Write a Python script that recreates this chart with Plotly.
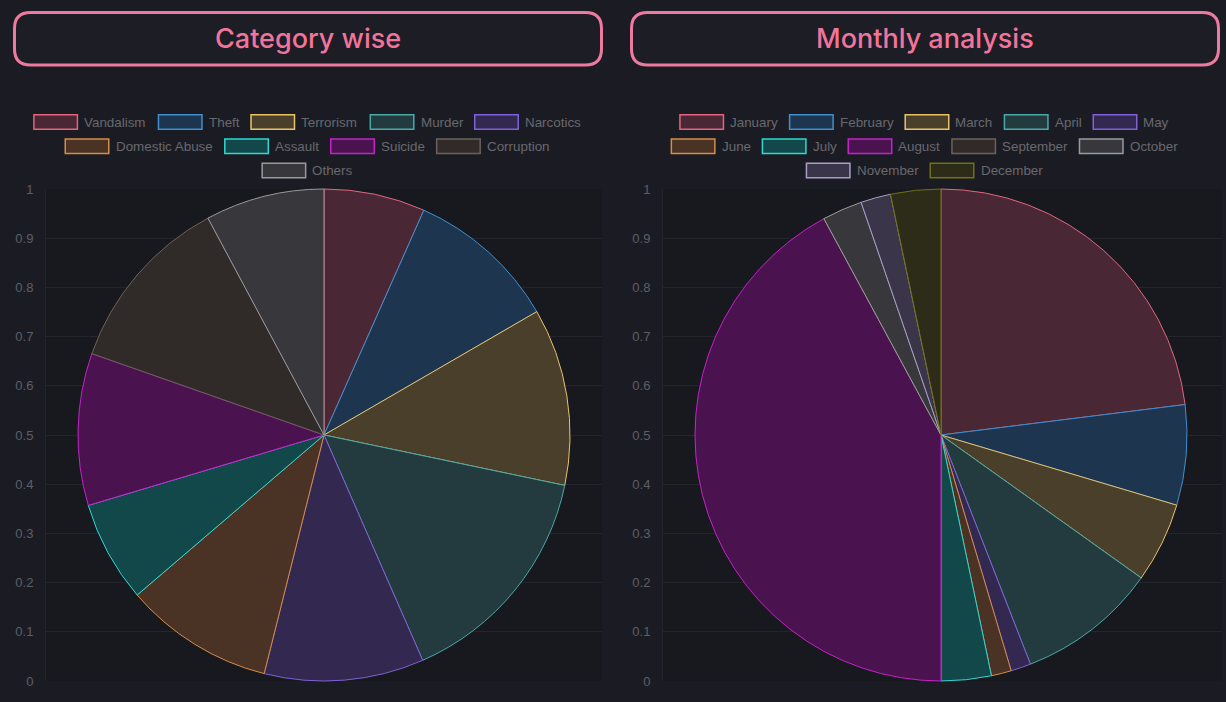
import plotly.graph_objects as go

# ---------------- data ----------------
cat_labels = ["Vandalism", "Theft", "Terrorism", "Murder", "Narcotics",
              "Domestic Abuse", "Assault", "Suicide", "Corruption", "Others"]
cat_values = [4.0, 6.0, 7.0, 9.1, 6.3, 5.9, 4.0, 6.0, 7.1, 4.7]

month_labels = ["January", "February", "March", "April", "May", "June",
                "July", "August", "September", "October", "November", "December"]
month_values = [35, 10, 8, 14, 2, 2, 5, 64, 0, 4, 3, 5]

y_ticks = [0, 0.1, 0.2, 0.3, 0.4, 0.5, 0.6, 0.7, 0.8, 0.9, 1]
y_tick_text = ["0", "0.1", "0.2", "0.3", "0.4", "0.5", "0.6", "0.7", "0.8", "0.9", "1"]

titles = ["Category wise", "Monthly analysis"]

# palette (border, fill)
border_cols = ["#e0667f", "#3d8fd0", "#e8c36c", "#4aa8a8", "#8060d8", "#d68d4a",
               "#2fd8d2", "#c422c8", "#6b6158", "#9a9a9e", "#aa9ec8", "#707018"]
fill_cols = ["#4a2734", "#1e3550", "#4a3f2a", "#233a3e", "#33284f", "#4a3324",
             "#124849", "#4a1350", "#302b29", "#38373c", "#3a3548", "#2c2c18"]
cat_border = border_cols[:10]
cat_fill = fill_cols[:10]

W, H = 1226, 702
BG = "#1b1c23"
PLOT_BG = "#18191f"
GRID = "#24252c"
PINK = "#ef7aa0"
TEXT = "#68686e"


def px(x):
    return x / W


def py(y):
    return 1 - y / H


fig = go.Figure()

panels = [
    dict(ax_x0=46, ax_x1=602, cx=324, labels=cat_labels, values=cat_values,
         border=cat_border, fill=cat_fill, leg_cx=307.5),
    dict(ax_x0=663, ax_x1=1222, cx=941, labels=month_labels, values=month_values,
         border=border_cols, fill=fill_cols, leg_cx=924.5),
]
y_top, y_bot = 189, 681
R = (y_bot - y_top) / 2

for i, p in enumerate(panels):
    sfx = "" if i == 0 else str(i + 1)
    fig.add_trace(go.Scatter(x=[0.5], y=[0.5], mode="markers",
                             marker=dict(opacity=0), hoverinfo="skip",
                             showlegend=False, xaxis="x" + sfx, yaxis="y" + sfx))
    fig.update_layout(**{
        "xaxis" + sfx: dict(domain=[px(p["ax_x0"]), px(p["ax_x1"])], range=[0, 1],
                            showgrid=False, zeroline=False, showticklabels=False,
                            showline=False, fixedrange=True, automargin=False),
        "yaxis" + sfx: dict(domain=[py(y_bot), py(y_top)], range=[0, 1],
                            anchor="x" + sfx, tickvals=y_ticks, ticktext=y_tick_text,
                            showgrid=True, gridcolor=GRID, gridwidth=1,
                            zeroline=False, showline=True, linecolor=GRID,
                            ticks="", ticklabelstandoff=9, automargin=False,
                            tickfont=dict(family="Liberation Sans", size=13, color="#5e5e66"),
                            fixedrange=True),
    })
    fig.add_trace(go.Pie(
        labels=p["labels"], values=p["values"], sort=False, direction="clockwise",
        rotation=0, textinfo="none", hoverinfo="label+value", showlegend=False,
        marker=dict(colors=p["fill"], line=dict(color=p["border"], width=1)),
        domain=dict(x=[px(p["cx"] - R), px(p["cx"] + R)], y=[py(y_bot), py(y_top)]),
    ))


# ---- title boxes ----
def rrect(x0, y0, x1, y1, r):
    return (f"M {px(x0 + r)},{py(y0)} L {px(x1 - r)},{py(y0)} "
            f"Q {px(x1)},{py(y0)} {px(x1)},{py(y0 + r)} L {px(x1)},{py(y1 - r)} "
            f"Q {px(x1)},{py(y1)} {px(x1 - r)},{py(y1)} L {px(x0 + r)},{py(y1)} "
            f"Q {px(x0)},{py(y1)} {px(x0)},{py(y1 - r)} L {px(x0)},{py(y0 + r)} "
            f"Q {px(x0)},{py(y0)} {px(x0 + r)},{py(y0)} Z")


shapes = []
annotations = []
title_boxes = [(14.5, 12.5, 601.5, 65), (631.5, 12.5, 1218.5, 65)]
for (x0, y0, x1, y1), t in zip(title_boxes, titles):
    shapes.append(dict(type="path", xref="paper", yref="paper",
                       path=rrect(x0, y0, x1, y1, 16),
                       line=dict(color=PINK, width=3), fillcolor="#1c1d25", layer="above"))
    annotations.append(dict(x=px((x0 + x1) / 2), y=py((y0 + y1) / 2 - 0.5), xref="paper", yref="paper",
                            text=t, showarrow=False, xanchor="center", yanchor="middle",
                            font=dict(family="Inter", size=27, color="#f2749b", weight=500)))

# ---- legends (Chart.js-like boxes, centred rows) ----
ARIAL = {' ': 278, 'A': 667, 'D': 722, 'J': 500, 'M': 833, 'N': 722, 'O': 778,
         'S': 667, 'T': 611, 'V': 667, 'F': 611, 'C': 722, 'E': 667,
         'a': 556, 'b': 556, 'c': 500, 'd': 556, 'e': 556, 'f': 278, 'g': 556,
         'h': 556, 'i': 222, 'j': 222, 'k': 500, 'l': 222, 'm': 833, 'n': 556,
         'o': 556, 'p': 556, 'r': 333, 's': 500, 't': 278, 'u': 556, 'v': 500,
         'w': 722, 'y': 500, 'z': 500}
LEG_FS = 13.4


def tw(s):
    return sum(ARIAL.get(c, 556) for c in s) * LEG_FS / 1000


BOXW, BOXH, GAP_T, PAD = 45, 14.5, 52, 10
MAXW = 575
ROW0, ROWH = 122, 24.3

for p in panels:
    rows, cur, curw = [], [], 0
    for lab, bc, fc in zip(p["labels"], p["border"], p["fill"]):
        w = GAP_T + tw(lab)
        neww = curw + (PAD if cur else 0) + w
        if cur and neww > MAXW:
            rows.append((cur, curw))
            cur, curw = [], 0
            neww = w
        cur.append((lab, bc, fc, w))
        curw = neww
    rows.append((cur, curw))
    for r_i, (items, rw) in enumerate(rows):
        x = p["leg_cx"] - rw / 2
        yc = ROW0 + ROWH * r_i
        for lab, bc, fc, w in items:
            shapes.append(dict(type="rect", xref="paper", yref="paper",
                               x0=px(x + 0.75), x1=px(x + BOXW - 0.75),
                               y0=py(yc - BOXH / 2), y1=py(yc + BOXH / 2),
                               line=dict(color=bc, width=1.5), fillcolor=fc))
            annotations.append(dict(x=px(x + GAP_T - 3), y=py(yc), xref="paper", yref="paper",
                                    text=lab, showarrow=False, xanchor="left", yanchor="middle",
                                    font=dict(family="Liberation Sans", size=LEG_FS, color=TEXT)))
            x += w + PAD

fig.update_layout(
    width=W, height=H, autosize=False, margin=dict(l=0, r=0, t=0, b=0, pad=0, autoexpand=False),
    paper_bgcolor=BG, plot_bgcolor=PLOT_BG,
    shapes=shapes, annotations=annotations, showlegend=False,
)

fig.write_html("out.html", config={"responsive": False, "displayModeBar": False},
               post_script="document.documentElement.style.margin='0';document.body.style.margin='0';"
                           "document.body.style.overflow='hidden';document.body.style.background='#1b1c23';")
